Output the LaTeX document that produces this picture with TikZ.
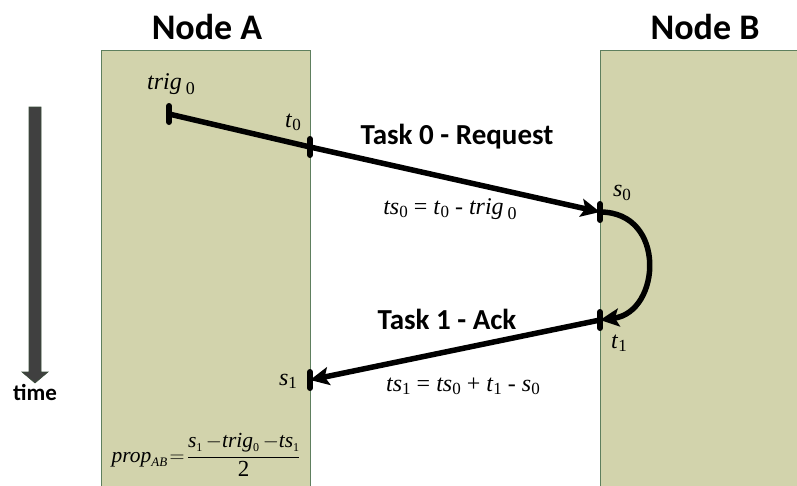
\documentclass[tikz,border=0pt]{standalone}
\usepackage{fontspec}
\setmainfont{Liberation Serif}
\newfontfamily\headfont{Carlito}
\usetikzlibrary{arrows.meta}

\definecolor{lane}{HTML}{D2D3AC}
\definecolor{laneedge}{HTML}{5E7F5E}
\definecolor{timegray}{HTML}{404040}

% italic variable with an upright index
\newcommand{\vr}[2]{\textit{#1}\raisebox{-0.3ex}{\fontsize{17}{17}\selectfont #2}}
\newcommand{\fr}[2]{\textit{#1}\raisebox{-0.4ex}{\fontsize{12}{12}\selectfont #2}}

\tikzset{
  lanebox/.style={fill=lane, draw=laneedge, line width=1pt},
  title/.style={font=\headfont\bfseries\fontsize{36}{40}\selectfont},
  task/.style={font=\headfont\bfseries\fontsize{29}{32}\selectfont},
  mlabel/.style={font=\fontsize{24}{26}\selectfont, inner sep=0pt},
  msg/.style={line width=5.5pt, -{Stealth[length=19pt,width=18pt,inset=4pt]}},
  tick/.style={line width=6pt, line cap=round},
}

\begin{document}
\begin{tikzpicture}[x=1pt,y=-1pt]
\useasboundingbox (0,0) rectangle (797,485);

% lanes
\fill[lane] (101,50) rectangle (310,490);
\fill[lane] (600,50) rectangle (800,490);
\draw[laneedge, line width=1pt] (101,490) -- (101,50) -- (310,50) -- (310,490);
\draw[laneedge, line width=1pt] (600,490) -- (600,50) -- (800,50);

\node[title] (na) at (207,27) {Node A};
\node[title] (nb) at (705,27) {Node B};

% time axis
\fill[timegray, draw=laneedge!60!black, line width=0.6pt]
  (29,107) -- (41,107) -- (41,372) -- (48,372) -- (35,383) -- (22,372) -- (29,372) -- cycle;
\node[font=\headfont\bfseries\fontsize{23}{26}\selectfont] (time) at (35,392) {time};

% event points
\coordinate (trig) at (169,114);
\coordinate (t0) at (310,147);
\coordinate (s0) at (600,212);
\coordinate (t1) at (600,320);
\coordinate (s1) at (310,380);

% messages
\draw[line width=5.5pt] (trig) -- (t0);
\draw[msg] (t0) -- (s0);
\draw[msg] (s0) .. controls (667,212) and (661,312) .. (t1);
\draw[msg] (t1) -- (s1);

% ticks
\foreach \p in {trig,t0,s0,t1,s1}
  \draw[tick] ([yshift=-8pt]\p) -- ([yshift=8pt]\p);

% labels
\node[mlabel] (ltrig) at (171,84) {\textit{trig}\,\raisebox{-0.5ex}{\fontsize{18}{18}\selectfont 0}};
\node[mlabel] (lt0) at (293,122) {\vr{t}{0}};
\node[mlabel] (ls0) at (622,193) {\vr{s}{0}};
\node[mlabel] (lt1) at (619,343) {\vr{t}{1}};
\node[mlabel] (ls1) at (288,381) {\vr{s}{1}};

\node[task] (req) at (457,137) {Task 0 - Request};
\node[task] (ack) at (447,319) {Task 1 - Ack};

\node[mlabel] (eq0) at (450,209) {\vr{ts}{0} = \vr{t}{0} - \textit{trig}\,\raisebox{-0.5ex}{\fontsize{18}{18}\selectfont 0}};
\node[mlabel] (eq1) at (463,386) {\vr{ts}{1} = \vr{ts}{0} + \vr{t}{1} - \vr{s}{0}};

\node[inner sep=0pt, font=\fontsize{21.5}{23}\selectfont] (prop) at (206,455)
  {$\displaystyle\mbox{\textit{prop}\raisebox{-0.45ex}{\fontsize{13}{13}\selectfont\textit{AB}}}\!=\!
    \frac{\mbox{\fr{s}{1}\,$-$\fr{trig}{0}\,$-$\fr{ts}{1}}}
         {\mbox{\fontsize{23}{25}\selectfont 2}}$};
\end{tikzpicture}
\end{document}
